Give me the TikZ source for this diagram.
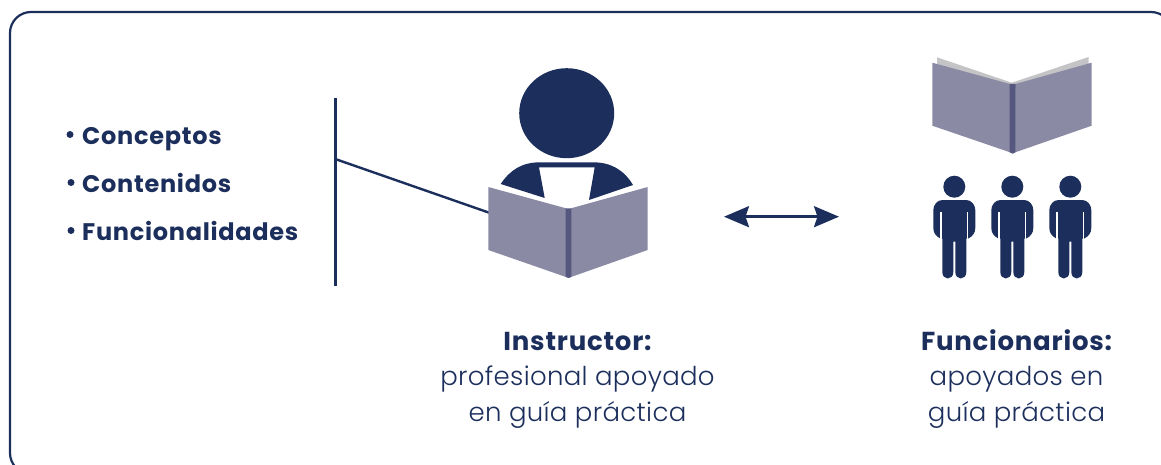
\documentclass[tikz,border=0pt]{standalone}
\usepackage{fontspec}
\setmainfont{Poppins}
\newfontfamily\lightface[LetterSpace=1.2]{Poppins Light}
\usetikzlibrary{arrows.meta}
\definecolor{navy}{HTML}{1C2F5C}
\definecolor{cover}{HTML}{8B8AA5}
\definecolor{spine}{HTML}{55577F}
\definecolor{pages}{HTML}{C4C4C6}
\tikzset{
  frameline/.style={draw=navy,line width=2.2pt},
  ruleline/.style={draw=navy,line width=2.4pt},
  stemline/.style={draw=navy,line width=3pt},
  twoway/.style={draw=navy,line width=2.6pt,{Stealth[length=25pt,width=21pt,inset=3.5pt]}-{Stealth[length=25pt,width=21pt,inset=3.5pt]}},
  listitem/.style={anchor=base west,inner sep=0pt,text=navy,font=\fontsize{24}{24}\selectfont\bfseries\addfontfeatures{LetterSpace=3}},
  bulletdot/.style={circle,fill=navy,inner sep=0pt,minimum size=7pt},
  captext/.style={anchor=base,inner sep=0pt,text=navy,font=\fontsize{26}{26}\selectfont\lightface},
  capbold/.style={anchor=base,inner sep=0pt,text=navy,font=\fontsize{26}{26}\selectfont\bfseries\addfontfeatures{LetterSpace=3}},
  slit/.style={draw=white,line width=1.4pt}
}
\begin{document}
\begin{tikzpicture}[x=1pt,y=-1pt]
\useasboundingbox (0,0) rectangle (1161,465);
\clip (0,0) rectangle (1161,465);
\draw[frameline,rounded corners=21pt] (10,12) rectangle (1172,474);
% list
\node[listitem] (c1) at (82,144.5) {Conceptos};
\node[listitem] (c2) at (82,192.5) {Contenidos};
\node[listitem] (c3) at (82,240.5) {Funcionalidades};
\node[bulletdot] (d1) at (70,134.5) {};
\node[bulletdot] (d2) at (71,182.5) {};
\node[bulletdot] (d3) at (71,230.5) {};
% rule and connector
\coordinate (rt) at (335.2,98);
\coordinate (rb) at (335.2,286);
\coordinate (rm) at (335.2,159);
\coordinate (bk) at (490,213);
\draw[stemline] (rt) -- (rb);
\draw[ruleline] (rm) -- (bk);
% instructor
\fill[navy] (566.7,113.2) ellipse [x radius=47.5,y radius=45];
\fill[navy] (500.7,184) .. controls (510,170) and (522,162.3) .. (540,162.3) -- (593,162.3) .. controls (611,162.3) and (624,170) .. (633,185) -- (589,200) -- (594.7,167.3) -- (539,167.3) -- (544.7,198) -- cycle;
\fill[cover] (488.3,187) -- (566,208.3) -- (566,277) -- (488.3,250) -- cycle;
\fill[cover] (571,208.3) -- (647.7,187) -- (647.7,250) -- (571,277) -- cycle;
\fill[spine] (565.7,208.3) -- (571.3,208.3) -- (571.3,277) -- (568.7,278) -- (565.7,277) -- cycle;
% arrow
\coordinate (al) at (724,216.7);
\coordinate (ar) at (839,216.7);
\draw[twoway] (al) -- (ar);
% open book
\fill[pages] (937,57.3) -- (1011.7,82.7) -- (1088.7,57) -- (1088.7,64) -- (1011.7,90) -- (937,64) -- cycle;
\fill[cover] (932.3,62.7) -- (1010,84) -- (1010,152.3) -- (932.3,125.7) -- cycle;
\fill[cover] (1015.3,84) -- (1091.7,62.7) -- (1091.7,125.7) -- (1015.3,152.3) -- cycle;
\fill[spine] (1009.7,84) -- (1015.6,84) -- (1015.6,152.3) -- (1012.7,153.7) -- (1009.7,152.3) -- cycle;
% people
\foreach \px in {954.3,1012.3,1070.3}{
  \begin{scope}[shift={(\px,0)}]
    \fill[navy] (0,186.7) circle (11);
    \fill[navy] (-12,200) -- (12,200)
      .. controls (17,200) and (21,205) .. (21,210) -- (21,228)
      .. controls (21,233) and (18,236.5) .. (14,238.5) -- (12,238.5)
      -- (12,272) .. controls (12,276) and (9.5,278.5) .. (6.5,278.5)
      .. controls (3.5,278.5) and (1,276) .. (1,272) -- (1,241.5) -- (-1,241.5) -- (-1,272)
      .. controls (-1,276) and (-3.5,278.5) .. (-6.5,278.5)
      .. controls (-9.5,278.5) and (-12,276) .. (-12,272)
      -- (-12,238.5) -- (-14,238.5)
      .. controls (-18,236.5) and (-21,233) .. (-21,228) -- (-21,210)
      .. controls (-21,205) and (-17,200) .. (-12,200) -- cycle;
    \draw[slit] (-13.2,212) -- (-13.2,239);
    \draw[slit] (13.2,212) -- (13.2,239);
  \end{scope}
}
% captions
\node[capbold] (i1) at (577.5,350) {Instructor:};
\node[captext] (i2) at (577.5,385.5) {profesional apoyado};
\node[captext] (i3) at (577.5,421.5) {en guía práctica};
\node[capbold] (f1) at (1016.5,350) {Funcionarios:};
\node[captext] (f2) at (1016.5,385.5) {apoyados en};
\node[captext] (f3) at (1016.5,421.5) {guía práctica};
\end{tikzpicture}
\end{document}
